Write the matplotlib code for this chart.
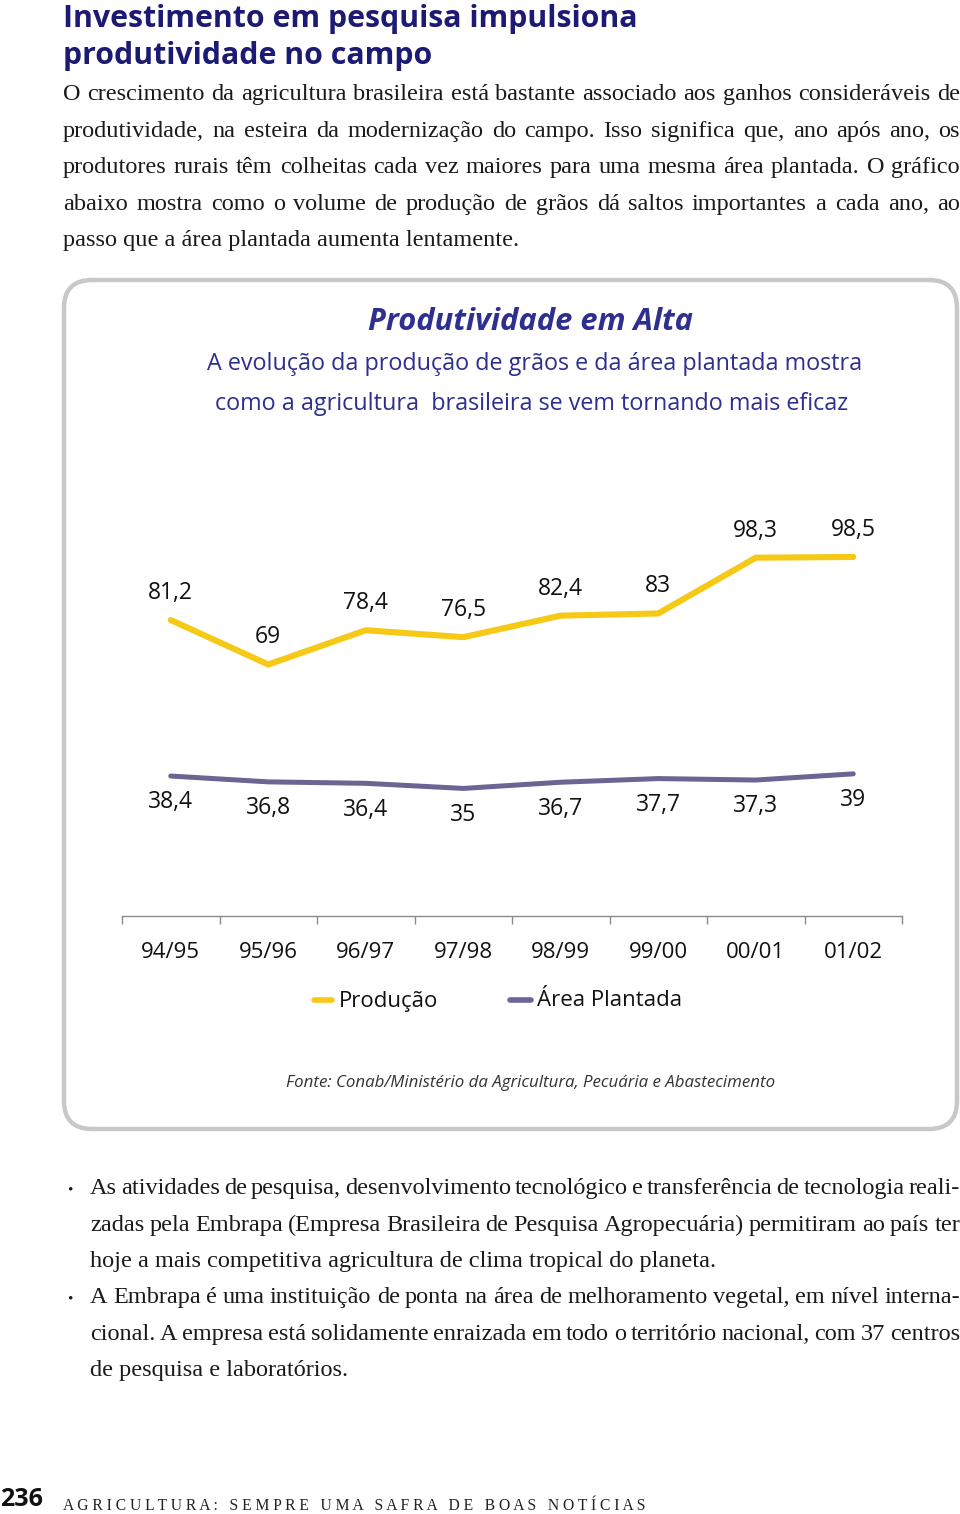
import matplotlib
matplotlib.use("Agg")
import matplotlib.pyplot as plt
from matplotlib.patches import FancyBboxPatch

# Data
safras = ["94/95", "95/96", "96/97", "97/98", "98/99", "99/00", "00/01", "01/02"]
producao = [81.2, 69, 78.4, 76.5, 82.4, 83, 98.3, 98.5]
area = [38.4, 36.8, 36.4, 35, 36.7, 37.7, 37.3, 39]
rotulos_prod = ["81,2", "69", "78,4", "76,5", "82,4", "83", "98,3", "98,5"]
rotulos_area = ["38,4", "36,8", "36,4", "35", "36,7", "37,7", "37,3", "39"]

paragrafo = [
    "O crescimento da agricultura brasileira está bastante associado aos ganhos consideráveis de",
    "produtividade, na esteira da modernização do campo. Isso significa que, ano após ano, os",
    "produtores rurais têm colheitas cada vez maiores para uma mesma área plantada. O gráfico",
    "abaixo mostra como o volume de produção de grãos dá saltos importantes a cada ano, ao",
    "passo que a área plantada aumenta lentamente.",
]
bullets = [
    "As atividades de pesquisa, desenvolvimento tecnológico e transferência de tecnologia reali-",
    "zadas pela Embrapa (Empresa Brasileira de Pesquisa Agropecuária) permitiram ao país ter",
    "hoje a mais competitiva agricultura de clima tropical do planeta.",
    "A Embrapa é uma instituição de ponta na área de melhoramento vegetal, em nível interna-",
    "cional. A empresa está solidamente enraizada em todo o território nacional, com 37 centros",
    "de pesquisa e laboratórios.",
]

AMARELO = "#F5C916"
ROXO = "#6A6592"
AZUL = "#1C1A72"
AZUL2 = "#2E2F8E"
SANS = "Open Sans"
SERIF = "Liberation Serif"
TXT = 17.5

W, H = 960, 1514
fig = plt.figure(figsize=(W / 100, H / 100), dpi=100)
page = fig.add_axes([0, 0, 1, 1])
page.set_xlim(0, W)
page.set_ylim(H, 0)
page.axis("off")
renderer = fig.canvas.get_renderer()


def justify(line, x0, x1, y, size, last=False):
    # y is the visual middle of the line; text sits on its baseline
    base = y + 6
    if last:
        page.text(x0, base, line, fontsize=size, family=SERIF, color="#1a1a1a",
                  va="baseline", ha="left")
        return
    words = line.split(" ")
    texts = [page.text(0, base, w, fontsize=size, family=SERIF, color="#1a1a1a",
                       va="baseline", ha="left") for w in words]
    widths = [t.get_window_extent(renderer).width for t in texts]
    gap = (x1 - x0 - sum(widths)) / (len(words) - 1)
    x = x0
    for t, w in zip(texts, widths):
        t.set_x(x)
        x += w + gap


# Title
page.text(63, 19, "Investimento em pesquisa impulsiona", fontsize=21.8, fontweight="bold",
          family=SANS, color=AZUL, va="center")
page.text(63, 56, "produtividade no campo", fontsize=21.8, fontweight="bold",
          family=SANS, color=AZUL, va="center")

ys = [94, 131, 167, 204, 240]
for i, (line, y) in enumerate(zip(paragrafo, ys)):
    justify(line, 63, 960, y, TXT, last=(i == len(paragrafo) - 1))

# Box
box = FancyBboxPatch((64, 280), 893, 849, boxstyle="round,pad=0,rounding_size=28",
                     facecolor="white", edgecolor="#C8C8C8", linewidth=3.2)
page.add_patch(box)

page.text(531, 322, "Produtividade em Alta", fontsize=22.2, fontweight="bold", style="italic",
          family=SANS, color=AZUL2, ha="center", va="center")
page.text(535, 364, "A evolução da produção de grãos e da área plantada mostra", fontsize=16.8,
          family=SANS, color=AZUL2, ha="center", va="center")
page.text(532, 404, "como a agricultura  brasileira se vem tornando mais eficaz", fontsize=16.8,
          family=SANS, color=AZUL2, ha="center", va="center")

# Legend
page.plot([314, 332], [1000, 1000], color=AMARELO, lw=4, solid_capstyle="round")
page.text(339, 1001, "Produção", fontsize=16, family=SANS, color="#111", va="center")
page.plot([510, 531], [1000, 1000], color=ROXO, lw=4, solid_capstyle="round")
page.text(537, 1001, "Área Plantada", fontsize=16, family=SANS, color="#111", va="center")

page.text(531, 1083, "Fonte: Conab/Ministério da Agricultura, Pecuária e Abastecimento",
          fontsize=12.2, style="italic", family=SANS, color="#333", ha="center", va="center")

# Chart
y0, scale, ymax = 916, 3.645, 120
ax = fig.add_axes([122 / W, (H - y0) / H, 780 / W, ymax * scale / H])
ax.patch.set_visible(False)
x = list(range(len(safras)))
ax.plot(x, producao, color=AMARELO, lw=4.4, solid_capstyle="round", solid_joinstyle="miter")
ax.plot(x, area, color=ROXO, lw=3.6, solid_capstyle="round", solid_joinstyle="miter")
for xi, v, s in zip(x, producao, rotulos_prod):
    ax.annotate(s, (xi, v), xytext=(0, 19.5), textcoords="offset points", ha="center",
                va="center", fontsize=16.5, family=SANS, color="#111")
for xi, v, s in zip(x, area, rotulos_area):
    ax.annotate(s, (xi, v), xytext=(0, -19), textcoords="offset points", ha="center",
                va="center", fontsize=16.5, family=SANS, color="#111")
ax.set_xlim(-0.5, 7.5)
ax.set_ylim(0, ymax)
for s in ["top", "right", "left"]:
    ax.spines[s].set_visible(False)
ax.spines["bottom"].set_color("#8a8a8a")
ax.spines["bottom"].set_linewidth(1)
ax.set_yticks([])
ax.set_xticks(x)
ax.set_xticklabels(safras, fontsize=16, family=SANS, color="#111")
ax.tick_params(axis="x", which="major", length=0, pad=19)
ax.set_xticks([i - 0.5 for i in range(len(safras) + 1)], minor=True)
ax.tick_params(axis="x", which="minor", length=6, color="#8a8a8a", width=1)

# Bullets
by = [1188, 1225, 1261, 1297, 1334, 1370]
for i, (line, y) in enumerate(zip(bullets, by)):
    justify(line, 90, 960, y, TXT, last=(i in (2, 5)))
page.text(70, 1190, "•", fontsize=11, family=SERIF, color="#1a1a1a", ha="center", va="center")
page.text(70, 1299, "•", fontsize=11, family=SERIF, color="#1a1a1a", ha="center", va="center")

# Footer
page.text(0, 1500, "236", fontsize=18, fontweight="bold", family=SANS, color="#111",
          ha="left", va="center")
rodape = "   ".join(" ".join(w) for w in "AGRICULTURA: SEMPRE UMA SAFRA DE BOAS NOTÍCIAS".split(" "))
ft = page.text(63, 1506, rodape, fontsize=8, family=SERIF, color="#222", ha="left", va="center")
fw = ft.get_window_extent(renderer).width
ft.set_fontsize(8 * 582 / fw)

fig.savefig("out.png", dpi=100)
